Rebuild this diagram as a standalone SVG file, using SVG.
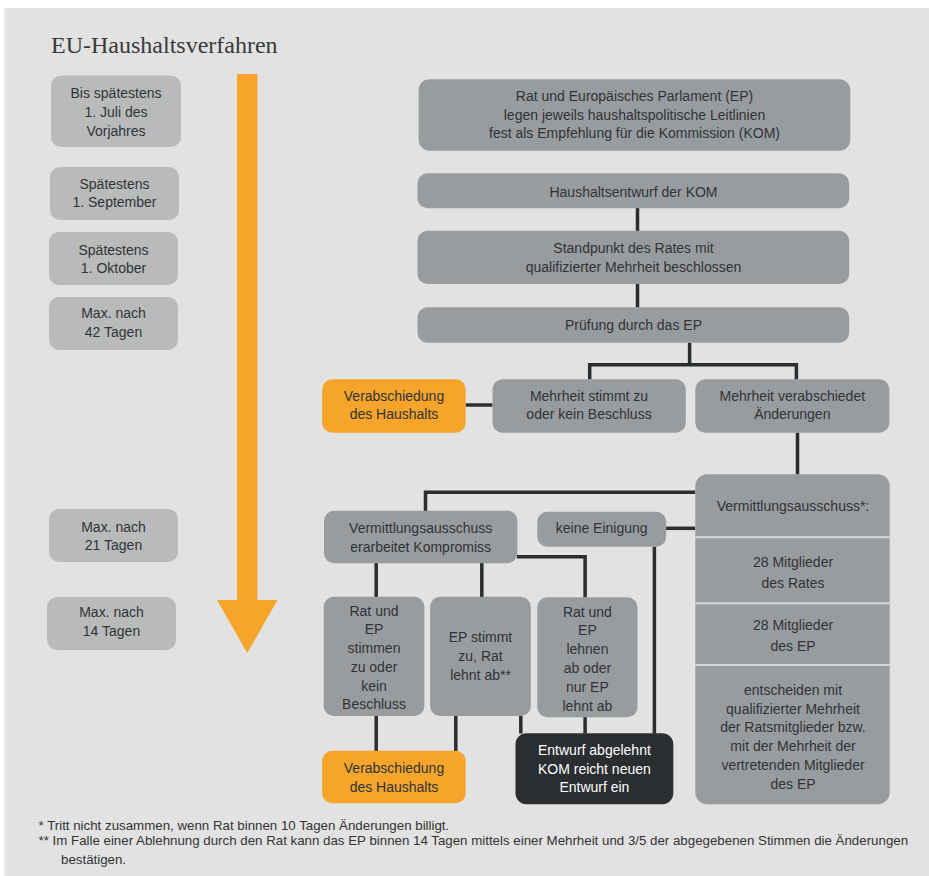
<svg xmlns="http://www.w3.org/2000/svg" width="929" height="876" viewBox="0 0 929 876">
<style>
.bg{fill:#e1e2e1}
.lb{fill:#b9bbbb}
.gb{fill:#999c9f}
.ob{fill:#f6a52a}
.db{fill:#2b2e31}
text{font-family:"Liberation Sans",Arial,sans-serif;font-size:14px;fill:#303336;text-anchor:middle}
.w{fill:#ffffff}
.title{font-family:"Liberation Serif","Times New Roman",serif;font-size:24px;fill:#3a3a3a;text-anchor:start}
.fn{font-size:13.3px;text-anchor:start;fill:#333333}
.con{fill:none;stroke:#2b2e31;stroke-width:3.5}
.div{stroke:#d6d8d8;stroke-width:2}
</style>
<rect class="bg" x="4.5" y="8" width="925" height="868"/>
<text class="title" x="51" y="53">EU-Haushaltsverfahren</text>

<g id="timeline">
<polygon points="237,74 257.5,74 257.5,600 277.5,600 247.3,653 217,600 237,600" fill="#f6a52a"/>
</g>

<g id="t1"><rect class="lb" x="51" y="75.5" width="130" height="71.5" rx="10"/>
<text x="116" y="97.7">Bis spätestens</text><text x="116" y="116.7">1. Juli des</text><text x="116" y="135.7">Vorjahres</text></g>
<g id="t2"><rect class="lb" x="50" y="167" width="129" height="53" rx="10"/>
<text x="114.5" y="189.3">Spätestens</text><text x="114.5" y="207.3">1. September</text></g>
<g id="t3"><rect class="lb" x="49" y="232" width="129" height="53" rx="10"/>
<text x="113.5" y="255">Spätestens</text><text x="113.5" y="273.3">1. Oktober</text></g>
<g id="t4"><rect class="lb" x="49" y="297" width="129" height="53" rx="10"/>
<text x="113.5" y="318.3">Max. nach</text><text x="113.5" y="337.3">42 Tagen</text></g>
<g id="t5"><rect class="lb" x="49" y="509" width="129" height="53" rx="10"/>
<text x="113.5" y="531.7">Max. nach</text><text x="113.5" y="550">21 Tagen</text></g>
<g id="t6"><rect class="lb" x="47" y="597" width="129" height="53" rx="10"/>
<text x="111.5" y="617.3">Max. nach</text><text x="111.5" y="636">14 Tagen</text></g>

<g id="connectors">
<path class="con" d="M637.5,208 V231"/>
<path class="con" d="M637.5,284 V307.5"/>
<path class="con" d="M689.6,342.7 V364.7 M589.7,379.5 V364.7 H796.4 V379.5"/>
<path class="con" d="M465.7,405 H492.5"/>
<path class="con" d="M797.5,432.7 V474.5"/>
<path class="con" d="M695.3,492.3 H425.5 V511"/>
<path class="con" d="M695.3,528.3 H666"/>
<path class="con" d="M654.4,546.7 V733.5"/>
<path class="con" d="M517,556.7 H585.1 V597.5"/>
<path class="con" d="M376.2,563 V597 M481.8,563 V597"/>
<path class="con" d="M376.2,716 V751 M455.8,716 V751"/>
<path class="con" d="M520.8,716 V733.5"/>
<path class="con" d="M585.1,717 V733.5"/>
</g>

<g id="n_leitlinien"><rect class="gb" x="418.6" y="79.3" width="431.7" height="71.5" rx="11"/>
<text x="634.5" y="101">Rat und Europäisches Parlament (EP)</text>
<text x="634.5" y="119.5">legen jeweils haushaltspolitische Leitlinien</text>
<text x="634.5" y="138">fest als Empfehlung für die Kommission (KOM)</text></g>
<g id="n_entwurf"><rect class="gb" x="417.5" y="173.3" width="431.7" height="35" rx="10"/>
<text x="633.5" y="196.5">Haushaltsentwurf der KOM</text></g>
<g id="n_standpunkt"><rect class="gb" x="417.5" y="230.7" width="431.7" height="53.3" rx="10"/>
<text x="633.5" y="253.3">Standpunkt des Rates mit</text>
<text x="633.5" y="271.7">qualifizierter Mehrheit beschlossen</text></g>
<g id="n_pruefung"><rect class="gb" x="417.5" y="307.3" width="431.7" height="35.4" rx="10"/>
<text x="633.5" y="330">Prüfung durch das EP</text></g>

<g id="n_verab1"><rect class="ob" x="322.2" y="379.3" width="143.5" height="53.4" rx="10"/>
<text x="394" y="401">Verabschiedung</text><text x="394" y="419.3">des Haushalts</text></g>
<g id="n_zustimmung"><rect class="gb" x="492.5" y="379.3" width="193.3" height="53.4" rx="10"/>
<text x="589" y="401">Mehrheit stimmt zu</text><text x="589" y="419.3">oder kein Beschluss</text></g>
<g id="n_aenderungen"><rect class="gb" x="695.3" y="379.3" width="194.1" height="53.4" rx="10"/>
<text x="792.3" y="401">Mehrheit verabschiedet</text><text x="792.3" y="419.3">Änderungen</text></g>

<g id="n_vermittlung"><rect class="gb" x="695.3" y="474.3" width="194.4" height="330" rx="12"/>
<line class="div" x1="695.3" y1="537.3" x2="889.7" y2="537.3"/>
<line class="div" x1="695.3" y1="603.3" x2="889.7" y2="603.3"/>
<line class="div" x1="695.3" y1="665" x2="889.7" y2="665"/>
<text x="793" y="511">Vermittlungsausschuss*:</text>
<text x="793" y="567.3">28 Mitglieder</text><text x="793" y="587.7">des Rates</text>
<text x="793" y="630">28 Mitglieder</text><text x="793" y="650.7">des EP</text>
<text x="793" y="695">entscheiden mit</text>
<text x="793" y="714">qualifizierter Mehrheit</text>
<text x="793" y="731.7">der Ratsmitglieder bzw.</text>
<text x="793" y="750.7">mit der Mehrheit der</text>
<text x="793" y="770">vertretenden Mitglieder</text>
<text x="793" y="789">des EP</text></g>

<g id="n_kompromiss"><rect class="gb" x="324" y="510.7" width="193.4" height="52.6" rx="10"/>
<text x="420.7" y="533.3">Vermittlungsausschuss</text><text x="420.7" y="551.7">erarbeitet Kompromiss</text></g>
<g id="n_keine"><rect class="gb" x="537.3" y="511.7" width="128.9" height="35" rx="10"/>
<text x="601.7" y="533.3">keine Einigung</text></g>

<g id="n_a"><rect class="gb" x="323.7" y="596.7" width="100.7" height="119.3" rx="10"/>
<text x="374" y="616">Rat und</text><text x="374" y="634.3">EP</text><text x="374" y="653.3">stimmen</text><text x="374" y="672.3">zu oder</text><text x="374" y="691">kein</text><text x="374" y="709">Beschluss</text></g>
<g id="n_b"><rect class="gb" x="430.1" y="596.7" width="100.7" height="119.3" rx="10"/>
<text x="480.5" y="642.3">EP stimmt</text><text x="480.5" y="661">zu, Rat</text><text x="480.5" y="680">lehnt ab**</text></g>
<g id="n_c"><rect class="gb" x="537.3" y="597.3" width="100.2" height="120" rx="10"/>
<text x="587.4" y="616.7">Rat und</text><text x="587.4" y="635.3">EP</text><text x="587.4" y="654.3">lehnen</text><text x="587.4" y="672.7">ab oder</text><text x="587.4" y="692">nur EP</text><text x="587.4" y="710.7">lehnt ab</text></g>

<g id="n_verab2"><rect class="ob" x="322.2" y="750.7" width="143.5" height="52.6" rx="10"/>
<text x="394" y="773.3">Verabschiedung</text><text x="394" y="791.7">des Haushalts</text></g>
<g id="n_abgelehnt"><rect class="db" x="515.5" y="733.3" width="157.8" height="71" rx="11"/>
<text class="w" x="594.4" y="755">Entwurf abgelehnt</text><text class="w" x="594.4" y="774.3">KOM reicht neuen</text><text class="w" x="594.4" y="792.3">Entwurf ein</text></g>

<g id="footnotes">
<text class="fn" x="38.5" y="829.5">* Tritt nicht zusammen, wenn Rat binnen 10 Tagen Änderungen billigt.</text>
<text class="fn" x="38.5" y="845">** Im Falle einer Ablehnung durch den Rat kann das EP binnen 14 Tagen mittels einer Mehrheit und 3/5 der abgegebenen Stimmen die Änderungen</text>
<text class="fn" x="61" y="864">bestätigen.</text>
</g>
</svg>
